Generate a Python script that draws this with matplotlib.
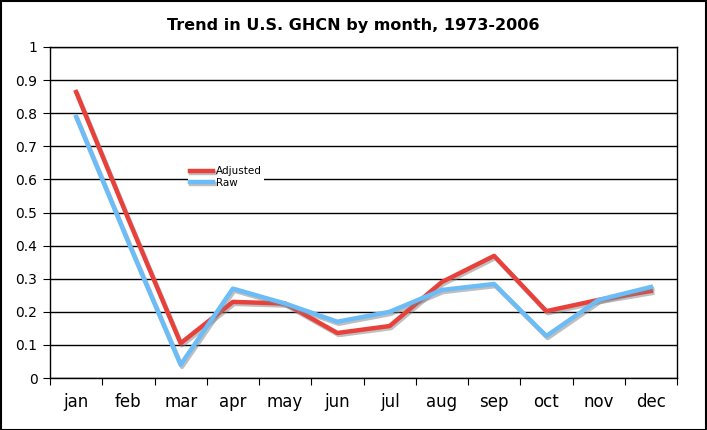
import matplotlib
matplotlib.use("Agg")
import matplotlib.pyplot as plt
import matplotlib.patheffects as pe
import numpy as np

# data
months = ["jan", "feb", "mar", "apr", "may", "jun", "jul", "aug", "sep", "oct", "nov", "dec"]
adjusted = [0.864, 0.48, 0.105, 0.23, 0.225, 0.136, 0.157, 0.29, 0.369, 0.202, 0.236, 0.263]
raw = [0.789, 0.41, 0.04, 0.27, 0.225, 0.17, 0.20, 0.266, 0.284, 0.127, 0.236, 0.275]

fig = plt.figure(figsize=(7.07, 4.30), dpi=100)
ax = fig.add_axes([50 / 707, 52 / 430, 627 / 707, 331 / 430])

x = np.arange(len(months))
shadow = [pe.SimpleLineShadow(offset=(1, -1.5), shadow_color="gray", alpha=0.5), pe.Normal()]
ax.plot(x, adjusted, color="#e8413c", lw=3.2, label="Adjusted", path_effects=shadow, zorder=3)
ax.plot(x, raw, color="#6bbcf7", lw=3.2, label="Raw", path_effects=shadow, zorder=3)

ax.set_xlim(-0.5, 11.5)
ax.set_ylim(0, 1)
ax.set_yticks(np.arange(0, 1.01, 0.1))
ax.set_yticklabels(["0", "0.1", "0.2", "0.3", "0.4", "0.5", "0.6", "0.7", "0.8", "0.9", "1"], fontsize=10)
ax.yaxis.grid(True, color="black", lw=1)
ax.set_axisbelow(True)

ax.set_xticks(np.arange(-0.5, 12, 1))
ax.set_xticklabels([])
ax.set_xticks(x, minor=True)
ax.set_xticklabels(months, minor=True, fontsize=12)
ax.tick_params(axis="x", which="minor", length=0, pad=11)
ax.tick_params(axis="x", which="major", length=5, direction="out")
ax.tick_params(axis="y", length=5, direction="out", pad=4)

for s in ax.spines.values():
    s.set_linewidth(1.0)

leg = ax.legend(loc="upper left", bbox_to_anchor=(0.22, 0.644), frameon=True, fontsize=7.5,
                handlelength=2.3, handletextpad=0.25, borderpad=0.15, labelspacing=0.15,
                borderaxespad=0, fancybox=False, edgecolor="white", framealpha=1)
leg.get_frame().set_linewidth(0)

fig.suptitle("Trend in U.S. GHCN by month, 1973-2006", fontsize=11.5, fontweight="bold", y=0.957)

# outer border
fig.patches.append(plt.Rectangle((0.001, 0.001), 0.997, 0.996, transform=fig.transFigure,
                                 fill=False, edgecolor="black", lw=1.5))

fig.savefig("out.png", dpi=100)
